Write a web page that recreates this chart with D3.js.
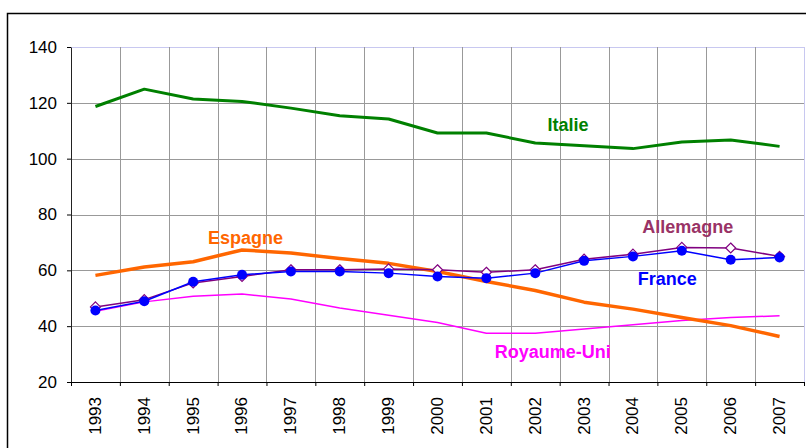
<!DOCTYPE html>
<html>
<head>
<meta charset="utf-8">
<script src="https://cdn.jsdelivr.net/npm/d3@7"></script>
<style>
  body { margin: 0; background: #fff; }
  svg text { font-family: "Liberation Sans", Arial, sans-serif; }
</style>
</head>
<body>
<div id="chart"></div>
<script>
const years = ["1993", "1994", "1995", "1996", "1997", "1998", "1999", "2000",
    "2001", "2002", "2003", "2004", "2005", "2006", "2007"];
const yTicks = [20, 40, 60, 80, 100, 120, 140];

const italie = [118.7, 124.9, 121.4, 120.5, 118.1, 115.4, 114.2, 109.2, 109.2, 105.6, 104.6, 103.6, 106.0, 106.7, 104.4];
const espagne = [58.2, 61.2, 63.1, 67.3, 66.2, 64.2, 62.5, 59.6, 56.0, 52.8, 48.6, 46.1, 43.1, 40.2, 36.3];
const allemagne = [46.9, 49.5, 55.5, 57.8, 60.2, 60.2, 60.5, 60.2, 59.3, 60.2, 64.0, 65.8, 68.2, 68.0, 65.0];
const france = [45.6, 48.9, 55.9, 58.4, 59.6, 59.6, 59.0, 57.8, 57.2, 59.0, 63.4, 65.0, 67.0, 63.8, 64.6];
const royaumeUni = [45.3, 48.7, 50.7, 51.5, 49.7, 46.5, 43.9, 41.3, 37.5, 37.5, 39.0, 40.5, 42.0, 43.1, 43.7];

const margin = {top: 47, right: 2, bottom: 66, left: 71},
    width = 806 - margin.left - margin.right,
    height = 448 - margin.top - margin.bottom;

const series = [
    {name: "Italie", values: italie, color: "#008000", label: "#008000", lw: 3, marker: null, at: [9.67, 110.0]},
    {name: "Royaume-Uni", values: royaumeUni, color: "#ff00ff", label: "#ff00ff", lw: 1.5, marker: null, at: [9.36, 28.7]},
    {name: "Espagne", values: espagne, color: "#ff6600", label: "#ff6600", lw: 3.5, marker: null, at: [3.07, 69.5]},
    {name: "Allemagne", values: allemagne, color: "#800080", label: "#993366", lw: 1.5, marker: "diamond", at: [12.12, 73.4]},
    {name: "France", values: france, color: "#0000ff", label: "#0000ff", lw: 1.5, marker: "circle", at: [11.70, 54.6]}
];

const root = d3.select("#chart")
    .append("svg")
    .attr("width", 806)
    .attr("height", 448);

// outer frame
root.append("rect")
    .attr("x", 7.5).attr("y", 13.5)
    .attr("width", 830).attr("height", 470)
    .attr("fill", "#fff")
    .attr("stroke", "#000")
    .attr("stroke-width", 1.5);

const svg = root.append("g")
    .attr("transform", `translate(${margin.left}, ${margin.top})`);

const x = d3.scaleLinear()
    .domain([-0.5, years.length - 0.5])
    .range([0, width]);

const y = d3.scaleLinear()
    .domain([20, 140])
    .range([height, 0]);

const bounds = d3.range(years.length + 1).map(function (i) { return i - 0.5; });

// horizontal gridlines
svg.append("g")
    .selectAll("line")
    .data(yTicks.slice(1))
    .enter()
    .append("line")
    .attr("x1", 0).attr("x2", width)
    .attr("y1", function (d) { return Math.round(y(d)) + 0.5; })
    .attr("y2", function (d) { return Math.round(y(d)) + 0.5; })
    .attr("stroke", function (d) { return d === 140 ? "#c8c8f0" : "#999"; })
    .attr("stroke-width", 1);

// vertical gridlines
svg.append("g")
    .selectAll("line")
    .data(bounds.slice(1))
    .enter()
    .append("line")
    .attr("x1", function (d) { return Math.round(x(d)) + 0.5; })
    .attr("x2", function (d) { return Math.round(x(d)) + 0.5; })
    .attr("y1", 0).attr("y2", height)
    .attr("stroke", function (d, i) { return i === bounds.length - 2 ? "#c8c8f0" : "#999"; })
    .attr("stroke-width", 1);

// y axis
const yAxis = svg.append("g")
    .call(d3.axisLeft(y).tickValues(yTicks).tickSize(4).tickSizeOuter(0).tickPadding(10));
yAxis.select(".domain").attr("stroke", "#222");
yAxis.selectAll("text").style("font-size", "17px").attr("fill", "#000");

// x axis: boundary ticks
svg.append("g")
    .attr("transform", `translate(0, ${height})`)
    .call(d3.axisBottom(x).tickValues(bounds).tickFormat("").tickSize(4).tickSizeOuter(0))
    .select(".domain").attr("stroke", "#000");

// x axis: year labels
const xLabels = svg.append("g")
    .attr("transform", `translate(0, ${height})`)
    .call(d3.axisBottom(x).tickValues(d3.range(years.length))
        .tickFormat(function (i) { return years[i]; }).tickSize(0));
xLabels.select(".domain").remove();
xLabels.selectAll("text")
    .attr("transform", "rotate(-90)")
    .attr("x", -15)
    .attr("y", -1)
    .attr("dy", "0.35em")
    .style("text-anchor", "end")
    .style("font-size", "17px")
    .attr("fill", "#000");

const line = d3.line()
    .x(function (d, i) { return x(i); })
    .y(function (d) { return y(d); });

series.forEach(function (s) {
    const g = svg.append("g");
    g.append("path")
        .datum(s.values)
        .attr("fill", "none")
        .attr("stroke", s.color)
        .attr("stroke-width", s.lw)
        .attr("stroke-linejoin", "round")
        .attr("d", line);

    if (s.marker === "circle") {
        g.selectAll("circle")
            .data(s.values)
            .enter()
            .append("circle")
            .attr("cx", function (d, i) { return x(i); })
            .attr("cy", function (d) { return y(d); })
            .attr("r", 5)
            .attr("fill", s.color);
    } else if (s.marker === "diamond") {
        g.selectAll("path.mk")
            .data(s.values)
            .enter()
            .append("path")
            .attr("class", "mk")
            .attr("d", "M0,-5L5,0L0,5L-5,0Z")
            .attr("transform", function (d, i) { return `translate(${x(i)}, ${y(d)})`; })
            .attr("fill", "#fff")
            .attr("stroke", s.color)
            .attr("stroke-width", 1.2);
    }

    svg.append("text")
        .attr("x", x(s.at[0]))
        .attr("y", y(s.at[1]))
        .attr("text-anchor", "middle")
        .style("font-size", "18px")
        .style("font-weight", "bold")
        .attr("fill", s.label)
        .text(s.name);
});
</script>
</body>
</html>
